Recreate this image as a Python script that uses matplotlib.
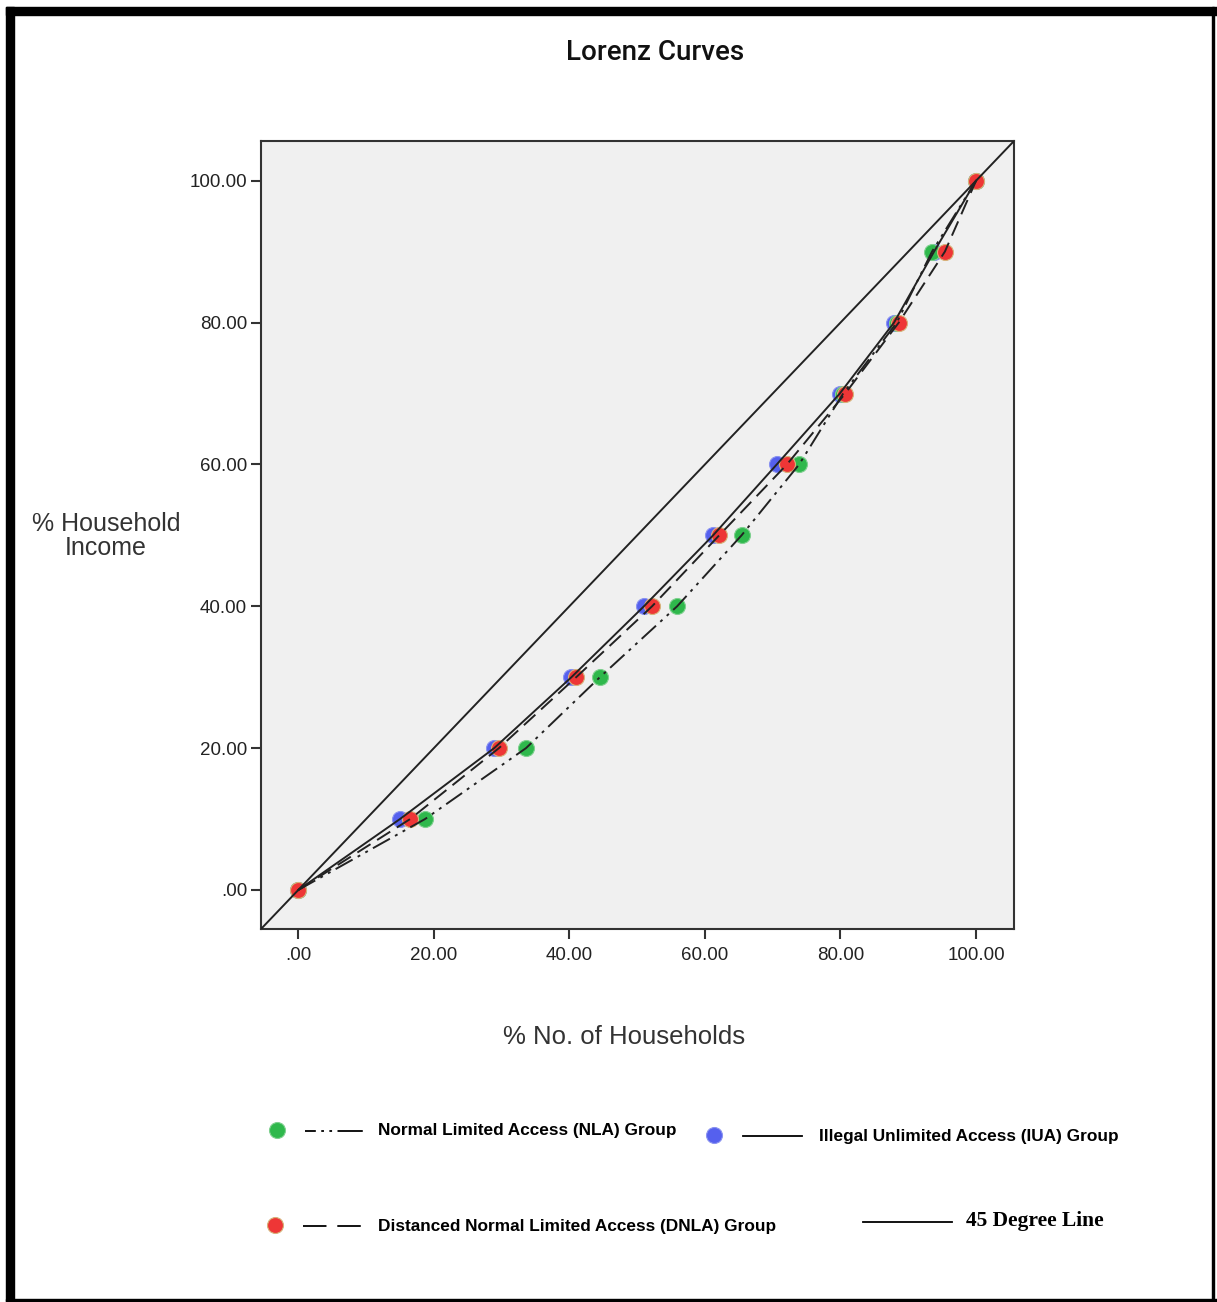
import matplotlib.pyplot as plt
from matplotlib.lines import Line2D
from matplotlib.patches import Rectangle

# cumulative % of households (x) for each % of income (y)
income = [0, 10, 20, 30, 40, 50, 60, 70, 80, 90, 100]
nla = [0, 18.7, 33.6, 44.5, 55.9, 65.4, 73.9, 80.4, 88.3, 93.5, 100]
iua = [0, 15.0, 28.9, 40.3, 51.0, 61.2, 70.6, 79.9, 87.9, 93.8, 100]
dnla = [0, 16.5, 29.6, 41.0, 52.2, 62.1, 72.1, 80.7, 88.6, 95.4, 100]
ticks = [0, 20, 40, 60, 80, 100]

green = "#2fb84c"
blue = "#5560ee"
red = "#ee3636"

W, H = 1217, 1302
fig = plt.figure(figsize=(W / 100, H / 100), dpi=100)

# frame around the whole picture
fig.patches.append(Rectangle((6 / W, 0), 8 / W, 1 - 7 / H, transform=fig.transFigure, color="black"))
fig.patches.append(Rectangle((6 / W, 1 - 15 / H), 1, 8 / H, transform=fig.transFigure, color="black"))
fig.patches.append(Rectangle((1212 / W, 0), 2 / W, 1 - 7 / H, transform=fig.transFigure, color="black"))
fig.patches.append(Rectangle((6 / W, 1 - 1301 / H), 1, 2 / H, transform=fig.transFigure, color="black"))

ax = fig.add_axes([261 / W, 1 - 929 / H, 753 / W, 788 / H])
ax.set_facecolor("#f0f0f0")
lo, hi = -5.5, 105.6
ax.set_xlim(lo, hi)
ax.set_ylim(lo, hi)

ms = 11.5
ax.plot(iua, income, "o", color=blue, ms=ms, mec="#8a93f0", mew=0.8, zorder=2)
ax.plot(nla, income, "o", color=green, ms=ms, mec="#7fd08f", mew=0.8, zorder=3)
ax.plot(dnla, income, "o", color=red, ms=ms, mec="#d7b27a", mew=0.8, zorder=4)

ax.plot([lo, hi], [lo, hi], color="#222222", lw=1.4, zorder=5)
ax.plot(iua, income, color="#222222", lw=1.4, zorder=5)
ax.plot(dnla, income, color="#222222", lw=1.4, dashes=(8, 4), zorder=5)
ax.plot(nla, income, color="#222222", lw=1.4, dashes=(10, 3, 1.5, 3, 1.5, 3), zorder=5)

labels = [f"{t:.2f}" if t else ".00" for t in ticks]
ax.set_xticks(ticks)
ax.set_xticklabels(labels)
ax.set_yticks(ticks)
ax.set_yticklabels(labels)
ax.tick_params(length=7, width=1.5, color="#333333", labelsize=13.5, labelcolor="#222222")
ax.tick_params(axis="x", pad=6)
ax.tick_params(axis="y", pad=3)
for lab in ax.get_xticklabels() + ax.get_yticklabels():
    lab.set_family("Liberation Sans")
for s in ax.spines.values():
    s.set_linewidth(1.5)
    s.set_color("#333333")

fig.text(655 / W, 1 - 53 / H, "Lorenz Curves", ha="center", va="center",
         fontsize=20, family="Roboto", weight="medium", color="#111111")
fig.text(106 / W, 1 - 536 / H, "% Household\nIncome", ha="center", va="center",
         fontsize=18, family="Liberation Sans", color="#333333", linespacing=0.95)
fig.text(624 / W, 1 - 1037 / H, "% No. of Households", ha="center", va="center",
         fontsize=18.5, family="Liberation Sans", color="#333333")

# legend drawn by hand
def fx(px):
    return px / W

def fy(py):
    return 1 - py / H

leg = [
    (277, 1130, 305, 363, green, "#7fd08f", (6, 3, 1.5, 3, 1.5, 3, 14, 2), "Normal Limited Access (NLA) Group", 378),
    (714, 1135, 743, 802, blue, "#8a93f0", None, "Illegal Unlimited Access (IUA) Group", 819),
    (275, 1225, 303, 362, red, "#d7b27a", (13, 6), "Distanced Normal Limited Access (DNLA) Group", 378),
]
for mx, my, x0, x1, col, ec, ds, txt, tx in leg:
    fig.add_artist(Line2D([fx(mx)], [fy(my)], marker="o", color=col, ms=ms, mec=ec, mew=0.8, lw=0))
    ln = Line2D([fx(x0), fx(x1)], [fy(my + 1), fy(my + 1)], color="black", lw=1.3)
    if ds:
        ln.set_dashes(ds)
    fig.add_artist(ln)
    fig.text(fx(tx), fy(my + 1), txt, ha="left", va="center", fontsize=12.4,
             family="Liberation Sans", weight="bold")

fig.add_artist(Line2D([fx(863), fx(952)], [fy(1222), fy(1222)], color="black", lw=1.3))
fig.text(fx(966), fy(1221), "45 Degree Line", ha="left", va="center", fontsize=15.5,
         family="Liberation Serif", weight="bold")

fig.savefig("out.png", dpi=100)
